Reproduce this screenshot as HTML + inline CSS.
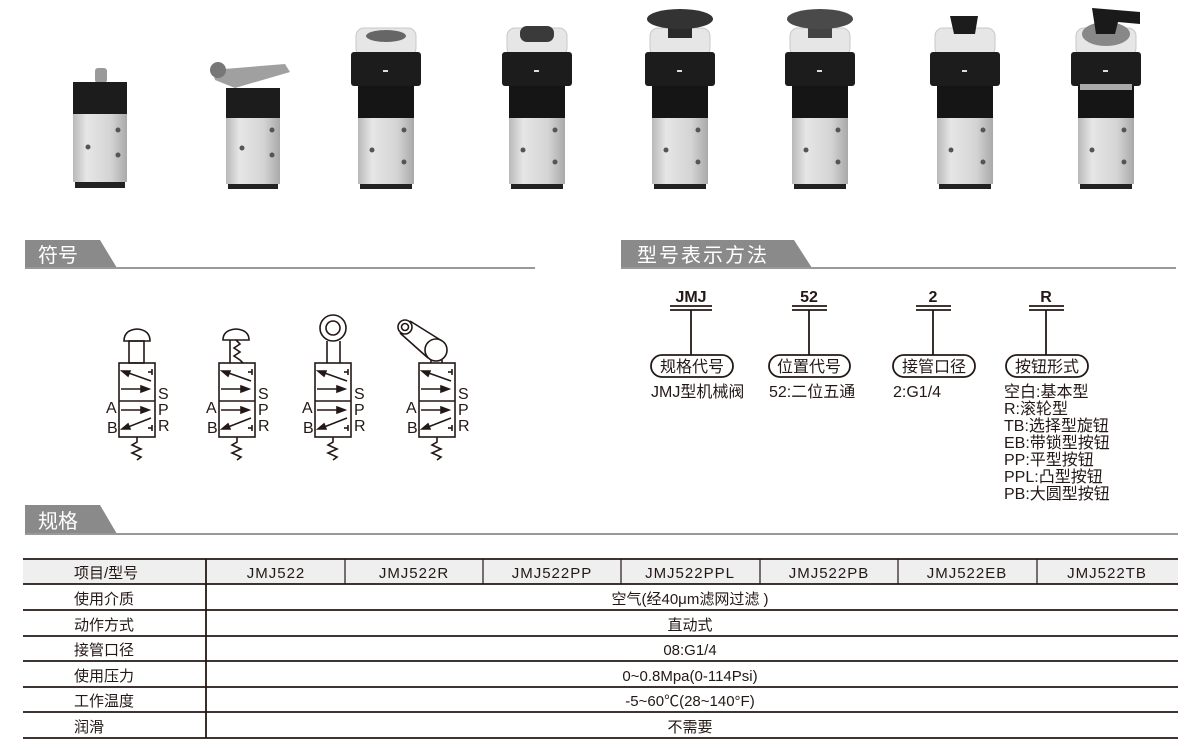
<!DOCTYPE html>
<html><head><meta charset="utf-8"><style>
html,body{margin:0;padding:0;background:#fff;}
body{width:1200px;height:750px;position:relative;overflow:hidden;font-family:"Liberation Sans","Noto Sans CJK SC",sans-serif;color:#231815;}
svg{position:absolute;left:0;top:0;}
</style></head><body>
<svg width="1200" height="750" viewBox="0 0 1200 750" xmlns="http://www.w3.org/2000/svg" font-family="Liberation Sans, Noto Sans CJK SC, sans-serif">
<defs>
<linearGradient id="sil" x1="0" x2="1"><stop offset="0" stop-color="#b9b9b9"/><stop offset="0.25" stop-color="#e6e6e6"/><stop offset="0.7" stop-color="#d4d4d4"/><stop offset="1" stop-color="#a9a9a9"/></linearGradient>
<g id="tall">
<rect x="-30" y="28" width="60" height="28" rx="8" fill="#e6e6e6" stroke="#c8c8c8"/>
<rect x="-35" y="52" width="70" height="34" rx="3" fill="#1c1c1c"/>
<rect x="-28" y="86" width="56" height="32" fill="#151515"/>
<rect x="-3" y="70" width="5" height="2" fill="#ddd"/>
<rect x="-28" y="118" width="56" height="66" fill="url(#sil)"/>
<circle cx="-14" cy="150" r="2.5" fill="#555"/><circle cx="18" cy="130" r="2.5" fill="#555"/><circle cx="18" cy="162" r="2.5" fill="#555"/>
<rect x="-26" y="184" width="52" height="5" fill="#222"/>
</g>
<g id="valve" stroke="#231815" stroke-width="1.6" fill="none">
<rect x="119" y="363" width="36" height="74"/>
<line x1="119" y1="401" x2="155" y2="401"/>
<line x1="121" y1="389" x2="148" y2="389"/><path d="M141 386 L149 389 L141 392Z" fill="#231815"/>
<line x1="121" y1="410" x2="148" y2="410"/><path d="M141 407 L149 410 L141 413Z" fill="#231815"/>
<line x1="151" y1="381" x2="123" y2="371"/><path d="M122 371 L130 371 L128 376Z" fill="#231815"/>
<line x1="151" y1="418" x2="123" y2="429"/><path d="M122 429 L128 424 L130 429Z" fill="#231815"/>
<line x1="152" y1="369" x2="152" y2="375"/><line x1="148" y1="372" x2="152" y2="372"/>
<line x1="152" y1="425" x2="152" y2="431"/><line x1="148" y1="428" x2="152" y2="428"/>
<path d="M137 437 L137 442 L132 445 L141 449 L132 453 L141 457 L137 460"/>
<g stroke="none" fill="#231815" font-size="16"><text x="106" y="413">A</text><text x="107" y="433">B</text><text x="158" y="399">S</text><text x="158" y="415">P</text><text x="158" y="431">R</text></g>
</g>
</defs>

<!-- products -->
<g>
<rect x="95" y="68" width="12" height="15" rx="3" fill="#9a9a9a"/>
<rect x="73" y="82" width="54" height="32" fill="#1c1c1c"/>
<rect x="73" y="114" width="54" height="68" fill="url(#sil)"/>
<circle cx="88" cy="147" r="2.5" fill="#555"/><circle cx="118" cy="130" r="2.5" fill="#555"/><circle cx="118" cy="155" r="2.5" fill="#555"/>
<rect x="75" y="182" width="50" height="6" fill="#222"/>
</g>
<g>
<path d="M212 70 L285 64 L290 72 L235 88 L215 80Z" fill="#a0a0a0"/>
<circle cx="218" cy="70" r="8" fill="#777"/>
<rect x="226" y="88" width="54" height="30" fill="#1c1c1c"/>
<rect x="226" y="118" width="54" height="66" fill="url(#sil)"/>
<circle cx="242" cy="148" r="2.5" fill="#555"/><circle cx="272" cy="130" r="2.5" fill="#555"/><circle cx="272" cy="155" r="2.5" fill="#555"/>
<rect x="228" y="184" width="50" height="5" fill="#222"/>
</g>
<use href="#tall" x="386" y="0"/><ellipse cx="386" cy="36" rx="20" ry="6" fill="#666"/>
<use href="#tall" x="537" y="0"/><rect x="520" y="26" width="34" height="16" rx="7" fill="#3a3a3a"/>
<use href="#tall" x="680" y="0"/><rect x="668" y="28" width="24" height="10" fill="#2a2a2a"/><ellipse cx="680" cy="19" rx="33" ry="10" fill="#333"/>
<use href="#tall" x="820" y="0"/><rect x="808" y="28" width="24" height="10" fill="#444"/><ellipse cx="820" cy="19" rx="33" ry="10" fill="#4a4a4a"/>
<use href="#tall" x="965" y="0"/><path d="M950 16 L978 16 L975 34 L954 34Z" fill="#1c1c1c"/>
<use href="#tall" x="1106" y="0"/><ellipse cx="1106" cy="34" rx="24" ry="12" fill="#888"/><path d="M1092 8 L1140 12 L1140 24 L1118 22 L1115 34 L1096 34Z" fill="#1a1a1a"/><rect x="1080" y="84" width="52" height="6" fill="#aaa"/>

<!-- section headers -->
<path d="M25 240 L100 240 L117 268 L25 268Z" fill="#8a8a8a"/>
<line x1="25" y1="268" x2="535" y2="268" stroke="#999" stroke-width="2"/>
<text x="38" y="262" font-size="20" fill="#fff">符号</text>
<path d="M621 240 L794 240 L812 268 L621 268Z" fill="#8a8a8a"/>
<line x1="621" y1="268" x2="1176" y2="268" stroke="#999" stroke-width="2"/>
<text x="637" y="262" font-size="20" fill="#fff" letter-spacing="2">型号表示方法</text>
<path d="M25 505 L100 505 L117 534 L25 534Z" fill="#8a8a8a"/>
<line x1="25" y1="534" x2="1178" y2="534" stroke="#999" stroke-width="2"/>
<text x="38" y="528" font-size="20" fill="#fff">规格</text>

<!-- symbols -->
<g stroke="#231815" stroke-width="1.6" fill="none">
<path d="M124 341 Q124 330 137 329 Q150 330 150 341Z"/><rect x="129" y="341" width="15" height="22"/>
<path d="M223 340 Q223 330 236 329 Q249 330 249 340Z"/><line x1="230" y1="340" x2="230" y2="363"/><path d="M236 340 L240 344 L234 348 L240 352 L234 356 L240 360 L243 363"/>
<circle cx="333" cy="328" r="13"/><circle cx="333" cy="328" r="7"/><line x1="327" y1="341" x2="327" y2="363"/><line x1="340" y1="341" x2="340" y2="363"/>
<circle cx="405" cy="327" r="7"/><circle cx="405" cy="327" r="3.5"/><circle cx="436" cy="350" r="11"/><line x1="410" y1="321" x2="442" y2="341"/><line x1="400" y1="333" x2="428" y2="358"/><line x1="431" y1="360" x2="431" y2="363"/><line x1="442" y1="360" x2="442" y2="363"/>
</g>
<use href="#valve" x="0" y="0"/>
<use href="#valve" x="100" y="0"/>
<use href="#valve" x="196" y="0"/>
<use href="#valve" x="300" y="0"/>

<!-- model code -->
<g font-size="16" fill="#231815">
<g font-weight="bold" text-anchor="middle" font-size="16"><text x="691" y="302">JMJ</text><text x="809" y="302">52</text><text x="933" y="302">2</text><text x="1046" y="302">R</text></g>
<g stroke="#231815" stroke-width="1.8" fill="none">
<line x1="670" y1="306" x2="712" y2="306"/><line x1="670" y1="310" x2="712" y2="310"/><line x1="691" y1="310" x2="691" y2="355"/>
<line x1="792" y1="306" x2="827" y2="306"/><line x1="792" y1="310" x2="827" y2="310"/><line x1="809" y1="310" x2="809" y2="355"/>
<line x1="916" y1="306" x2="951" y2="306"/><line x1="916" y1="310" x2="951" y2="310"/><line x1="933" y1="310" x2="933" y2="355"/>
<line x1="1029" y1="306" x2="1064" y2="306"/><line x1="1029" y1="310" x2="1064" y2="310"/><line x1="1046" y1="310" x2="1046" y2="355"/>
<rect x="651" y="355" width="82" height="22" rx="11"/>
<rect x="769" y="355" width="81" height="22" rx="11"/>
<rect x="893" y="355" width="82" height="22" rx="11"/>
<rect x="1006" y="355" width="82" height="22" rx="11"/>
</g>
<g text-anchor="middle" font-size="16"><text x="692" y="372">规格代号</text><text x="809" y="372">位置代号</text><text x="934" y="372">接管口径</text><text x="1047" y="372">按钮形式</text></g>
<text x="651" y="397">JMJ型机械阀</text>
<text x="769" y="397">52:二位五通</text>
<text x="893" y="397">2:G1/4</text>
<text x="1004" y="397">空白:基本型</text>
<text x="1004" y="414">R:滚轮型</text>
<text x="1004" y="431">TB:选择型旋钮</text>
<text x="1004" y="448">EB:带锁型按钮</text>
<text x="1004" y="465">PP:平型按钮</text>
<text x="1004" y="482">PPL:凸型按钮</text>
<text x="1004" y="499">PB:大圆型按钮</text>
</g>

<!-- table -->
<rect x="23" y="559" width="1155" height="25" fill="#efefef"/>
<g stroke="#231815" stroke-width="1.8">
<line x1="23" y1="559" x2="1178" y2="559"/>
<line x1="23" y1="584" x2="1178" y2="584"/>
<line x1="23" y1="610" x2="1178" y2="610"/>
<line x1="23" y1="636" x2="1178" y2="636"/>
<line x1="23" y1="661" x2="1178" y2="661"/>
<line x1="23" y1="687" x2="1178" y2="687"/>
<line x1="23" y1="712" x2="1178" y2="712"/>
<line x1="23" y1="738" x2="1178" y2="738"/>
<line x1="206" y1="559" x2="206" y2="738"/>
</g>
<g stroke="#231815" stroke-width="1.2">
<line x1="345" y1="559" x2="345" y2="584"/><line x1="483" y1="559" x2="483" y2="584"/><line x1="621" y1="559" x2="621" y2="584"/><line x1="760" y1="559" x2="760" y2="584"/><line x1="898" y1="559" x2="898" y2="584"/><line x1="1037" y1="559" x2="1037" y2="584"/>
</g>
<g font-size="15" fill="#231815">
<text x="74" y="578">项目/型号</text>
<text x="74" y="604">使用介质</text>
<text x="74" y="630">动作方式</text>
<text x="74" y="655">接管口径</text>
<text x="74" y="681">使用压力</text>
<text x="74" y="706">工作温度</text>
<text x="74" y="732">润滑</text>
<g text-anchor="middle" letter-spacing="1">
<text x="276" y="578">JMJ522</text><text x="414" y="578">JMJ522R</text><text x="552" y="578">JMJ522PP</text><text x="690" y="578">JMJ522PPL</text><text x="829" y="578">JMJ522PB</text><text x="967" y="578">JMJ522EB</text><text x="1107" y="578">JMJ522TB</text>
</g>
<g text-anchor="middle">
<text x="690" y="604">空气(经40μm滤网过滤 )</text>
<text x="690" y="630">直动式</text>
<text x="690" y="655">08:G1/4</text>
<text x="690" y="681">0~0.8Mpa(0-114Psi)</text>
<text x="690" y="706">-5~60℃(28~140°F)</text>
<text x="690" y="732">不需要</text>
</g>
</g>
</svg>
</body></html>
